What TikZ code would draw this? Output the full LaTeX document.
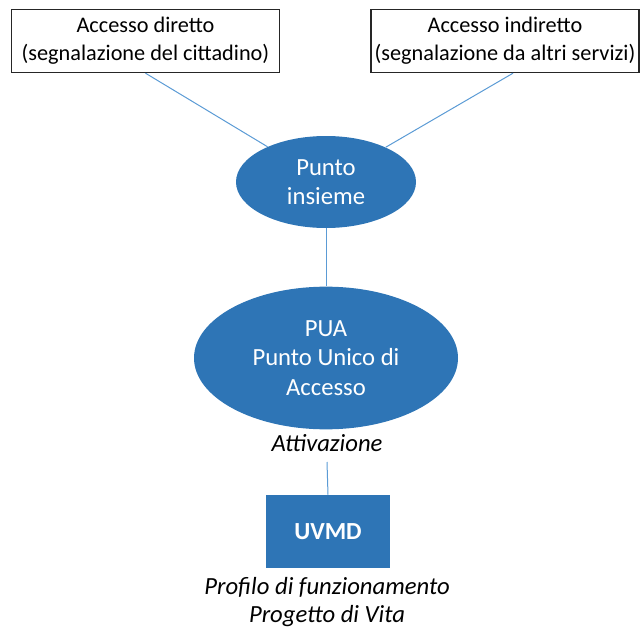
\documentclass[tikz,border=0pt]{standalone}
\usepackage{fontspec}
\setmainfont{Carlito}
\usetikzlibrary{shapes.geometric}
\definecolor{accblue}{HTML}{2E75B6}
\definecolor{linkblue}{HTML}{5B9BD5}
\tikzset{
  accessbox/.style={draw=black!85, line width=0.8pt, fill=white,
    minimum width=201pt, minimum height=47.5pt, inner sep=0pt, align=center,
    font=\fontsize{16.7}{21}\selectfont},
  bluebubble/.style={ellipse, fill=accblue, text=white, inner sep=0pt, align=center,
    font=\fontsize{18.5}{22.2}\selectfont},
  unitbox/.style={fill=accblue, text=white, inner sep=0pt,
    minimum width=93pt, minimum height=54.75pt, font=\fontsize{18.4}{22}\selectfont\bfseries},
  note/.style={inner sep=0pt, align=center, font=\fontsize{18.5}{21}\selectfont\itshape},
  link/.style={draw=linkblue, line width=0.75pt}
}
\begin{document}
\begin{tikzpicture}[x=0.75pt, y=-0.75pt]
  \useasboundingbox (0,0) rectangle (644,628);

  % entry points
  \node[accessbox] (dir) at (145.5,41) {Accesso diretto\\(segnalazione del cittadino)};
  \node[accessbox] (ind) at (505,41) {Accesso indiretto\\(segnalazione da altri servizi)};

  % meeting point and single access point
  \node[bluebubble, minimum width=135pt, minimum height=69pt] (ins) at (326,182) {Punto\\insieme};
  \node[bluebubble, minimum width=198pt, minimum height=107pt] (pua) at (326,358) {PUA\\Punto Unico di\\Accesso};

  \node[note] (att) at (327,443) {Attivazione};

  % evaluation unit
  \node[unitbox] (uvmd) at (328,531.5) {UVMD};
  \node[note, anchor=north] (out) at (327,577) {Profilo di funzionamento\\Progetto di Vita};

  % connectors
  \draw[link] (dir.south) -- (ins);
  \draw[link] ([xshift=6pt]ind.south) -- (ins);
  \draw[link] (ins.south) -- (pua.north);
  \draw[link] (att.south |- 0,462) -- (uvmd.north);
\end{tikzpicture}
\end{document}
